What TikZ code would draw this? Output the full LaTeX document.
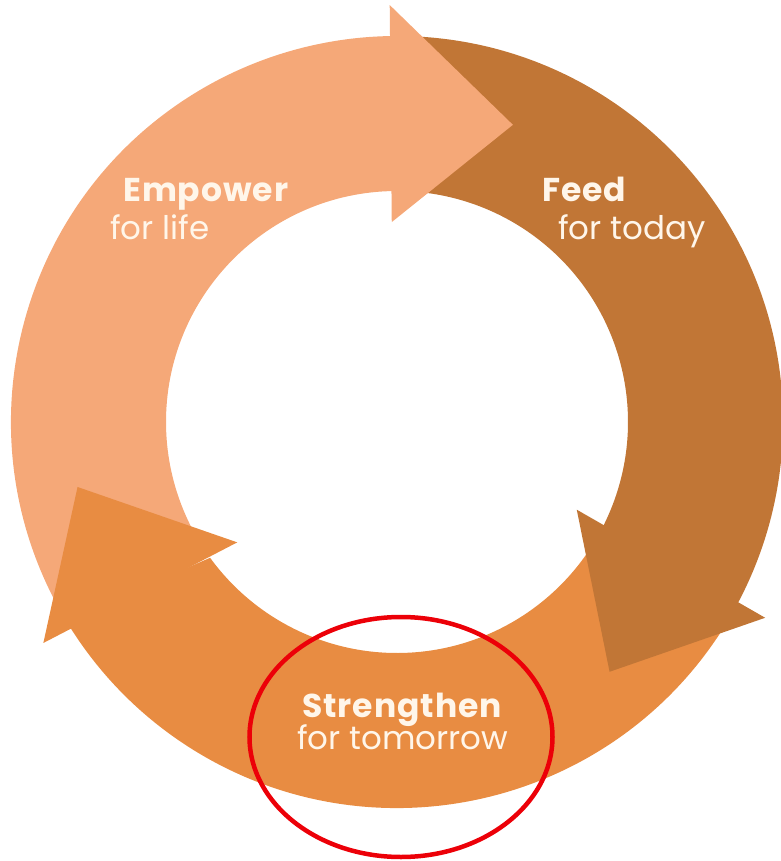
\documentclass[tikz,border=0pt]{standalone}
\usepackage{fontspec}
\setmainfont{Poppins}
\usetikzlibrary{positioning}

\definecolor{lifeorange}{RGB}{245,168,120}
\definecolor{todaybrown}{RGB}{193,118,54}
\definecolor{morroworange}{RGB}{232,140,66}
\definecolor{labelcream}{RGB}{255,246,234}
\definecolor{markred}{RGB}{236,0,8}

\tikzset{
  cycletitle/.style={text=labelcream, inner sep=0pt, anchor=base west, text depth=0pt,
    font=\bfseries\fontsize{33}{33}\selectfont\addfontfeature{LetterSpace=3}},
  cyclesub/.style={text=labelcream, inner sep=0pt, anchor=base west,
    font=\fontsize{32.5}{32.5}\selectfont},
}

% tail / head base inner / head base outer / tip angle / tip radius / colour
\def\arrowlist{210/91.5/91/68.7/319/lifeorange,
  87/-26/-28/-49.6/328/todaybrown,
  329/217/212/191.5/326/morroworange}

\begin{document}
\begin{tikzpicture}[x=1pt,y=1pt]
\useasboundingbox (-397pt,-439pt) rectangle (383pt,422pt);
% bands of the ring
\foreach \tail/\bin/\bout/\tipa/\tipr/\col in \arrowlist
  \fill[\col] (\tail:386pt) arc[start angle=\tail, end angle=\bout-1, radius=386pt]
    -- (\bin-1:231pt) arc[start angle=\bin-1, end angle=\tail, radius=231pt] -- cycle;
% arrow heads on top
\foreach \tail/\bin/\bout/\tipa/\tipr/\col in \arrowlist
  \fill[\col] (\bout:417pt) -- (\tipa:\tipr pt) -- (\bin:200pt) -- cycle;

\node[cycletitle] (empower) at (-274pt,220pt) {Empower};
\node[cyclesub] (empowersub) at (-287pt,182pt) {for life};
\node[cycletitle] (feed) at (145pt,220pt) {Feed};
\node[cyclesub] (feedsub) at (161pt,182pt) {for today};
\node[cycletitle] (strengthen) at (-95pt,-295pt) {Strengthen};
\node[cyclesub] (strengthensub) at (-100pt,-327pt) {for tomorrow};

% red mark round the bottom label
\draw[markred, line width=4.5pt] (4pt,-315pt) ellipse [x radius=151.5pt, y radius=120pt];
\end{tikzpicture}
\end{document}
